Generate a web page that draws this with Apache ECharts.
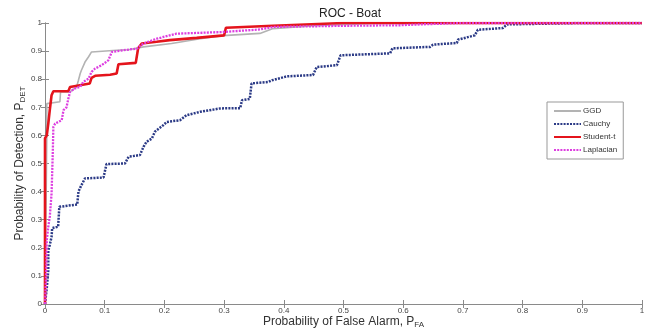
<!DOCTYPE html>
<html><head><meta charset="utf-8">
<script src="https://cdn.jsdelivr.net/npm/echarts@6/dist/echarts.min.js"></script>
<style>html,body{margin:0;padding:0;background:#fff}#c{width:647px;height:333px}</style>
</head><body><div id="c"></div>
<script>
var seriesNames = ['GGD', 'Cauchy', 'Student-t', 'Laplacian'];
var xTicks = [0, 0.1, 0.2, 0.3, 0.4, 0.5, 0.6, 0.7, 0.8, 0.9, 1];
var yTicks = [0, 0.1, 0.2, 0.3, 0.4, 0.5, 0.6, 0.7, 0.8, 0.9, 1];

var ggd = [[0,0],[0.003,0.60],[0.003,0.713],[0.025,0.72],[0.026,0.755],[0.042,0.755],[0.053,0.773],[0.056,0.796],[0.059,0.82],[0.061,0.832],[0.067,0.861],[0.073,0.88],[0.078,0.897],[0.12,0.903],[0.14,0.905],[0.165,0.915],[0.212,0.927],[0.26,0.944],[0.298,0.955],[0.36,0.963],[0.382,0.98],[0.45,0.99],[0.55,0.998],[1,1]];

var cauchy = [[0,0],[0.003,0],[0.003,0.057],[0.0055,0.12],[0.0055,0.19],[0.008,0.21],[0.011,0.239],[0.012,0.27],[0.022,0.275],[0.024,0.346],[0.054,0.354],[0.056,0.40],[0.061,0.423],[0.067,0.447],[0.098,0.45],[0.103,0.498],[0.134,0.50],[0.14,0.524],[0.159,0.53],[0.165,0.559],[0.17,0.577],[0.179,0.589],[0.184,0.613],[0.198,0.636],[0.204,0.648],[0.226,0.654],[0.237,0.672],[0.26,0.684],[0.293,0.696],[0.327,0.697],[0.33,0.725],[0.343,0.73],[0.346,0.785],[0.374,0.79],[0.38,0.796],[0.405,0.81],[0.449,0.815],[0.455,0.843],[0.489,0.85],[0.495,0.885],[0.578,0.892],[0.582,0.91],[0.645,0.915],[0.65,0.923],[0.69,0.929],[0.692,0.941],[0.72,0.956],[0.725,0.976],[0.767,0.982],[0.774,0.995],[0.896,1.0],[1,1]];

var studentT = [[0,0],[0,0.59],[0.003,0.60],[0.0055,0.642],[0.008,0.69],[0.01,0.725],[0.011,0.743],[0.014,0.757],[0.039,0.757],[0.042,0.772],[0.075,0.785],[0.078,0.805],[0.084,0.812],[0.109,0.816],[0.12,0.82],[0.123,0.853],[0.152,0.858],[0.156,0.91],[0.162,0.927],[0.187,0.933],[0.209,0.939],[0.254,0.947],[0.30,0.956],[0.303,0.983],[0.382,0.99],[0.385,0.997],[0.5,1],[1,1]];

var laplacian = [[0,0],[0.002,0.11],[0.003,0.227],[0.0055,0.275],[0.008,0.31],[0.011,0.393],[0.013,0.536],[0.014,0.63],[0.017,0.642],[0.028,0.654],[0.031,0.69],[0.036,0.70],[0.039,0.73],[0.042,0.755],[0.05,0.767],[0.059,0.773],[0.064,0.79],[0.073,0.802],[0.078,0.826],[0.084,0.838],[0.095,0.85],[0.106,0.867],[0.112,0.897],[0.131,0.903],[0.154,0.909],[0.165,0.927],[0.187,0.944],[0.22,0.962],[0.298,0.968],[0.36,0.977],[0.382,0.986],[0.5,0.99],[0.595,0.992],[0.628,0.995],[0.7,1],[1,1]];

var chart = echarts.init(document.getElementById('c'), null, {renderer: 'canvas'});
var axisColor = '#8a8a8a';
var font = 'Liberation Sans, Arial, sans-serif';
var rich = {
  m: {fontSize: 12, color: '#333', fontFamily: font},
  s: {fontSize: 8, color: '#333', fontFamily: font, padding: [7, 0, 0, 0]}
};
function baseAxis(extra) {
  var a = {
    type: 'value', min: 0, max: 1, interval: 0.1,
    axisLine: {show: true, lineStyle: {color: axisColor, width: 1}},
    axisTick: {show: true, inside: true, length: 4, lineStyle: {color: axisColor}},
    splitLine: {show: false},
    axisLabel: {show: true, fontSize: 8, color: '#444', fontFamily: font, margin: 3,
      formatter: function (v) { return String(Math.round(v * 10) / 10); }}
  };
  for (var k in extra) a[k] = extra[k];
  return a;
}
var option = {
  backgroundColor: '#fff',
  animation: false,
  title: {text: 'ROC - Boat', left: 345, top: 3, textAlign: 'center',
    textStyle: {fontSize: 12, fontWeight: 'normal', color: '#222', fontFamily: font}},
  grid: {left: 45, right: 5, top: 23, bottom: 29, containLabel: false, outerBoundsMode: 'none'},
  legend: {
    data: seriesNames, orient: 'vertical', left: 547, top: 102,
    icon: 'inherit',
    itemStyle: {opacity: 0},
    width: 77, itemWidth: 27, itemHeight: 8, itemGap: 5,
    padding: [5, 6, 5, 6],
    borderColor: '#999', borderWidth: 1, backgroundColor: '#fff',
    textStyle: {fontSize: 8, color: '#333', fontFamily: font, padding: [0, 0, 0, -3]}
  },
  xAxis: [
    baseAxis({position: 'bottom', name: '{m|Probability of False Alarm, P}{s|FA}',
      nameLocation: 'middle', nameGap: 10, nameMoveOverlap: false, nameTextStyle: {rich: rich}}),
    baseAxis({position: 'top', axisLabel: {show: false}})
  ],
  yAxis: [
    baseAxis({position: 'left', name: '{m|Probability of Detection, P}{s|DET}',
      nameLocation: 'middle', nameGap: 18, nameMoveOverlap: false, nameTextStyle: {rich: rich}}),
    baseAxis({position: 'right', axisLabel: {show: false}})
  ],
  series: [
    {name: 'GGD', type: 'line', data: ggd, showSymbol: false, symbol: 'none',
      lineStyle: {color: '#b3b3b3', width: 1.6}, itemStyle: {color: '#b3b3b3'}, z: 2},
    {name: 'Cauchy', type: 'line', data: cauchy, showSymbol: false, symbol: 'none',
      lineStyle: {color: '#2b3a86', width: 2.5, type: [2, 1.2]}, itemStyle: {color: '#2b3a86'}, z: 3},
    {name: 'Student-t', type: 'line', data: studentT, showSymbol: false, symbol: 'none',
      lineStyle: {color: '#e4141c', width: 2.6}, itemStyle: {color: '#e4141c'}, z: 4},
    {name: 'Laplacian', type: 'line', data: laplacian, showSymbol: false, symbol: 'none',
      lineStyle: {color: '#dd3ee0', width: 2.3, type: [2, 1.2]}, itemStyle: {color: '#dd3ee0'}, z: 5}
  ]
};
chart.setOption(option);
</script>
</body></html>
